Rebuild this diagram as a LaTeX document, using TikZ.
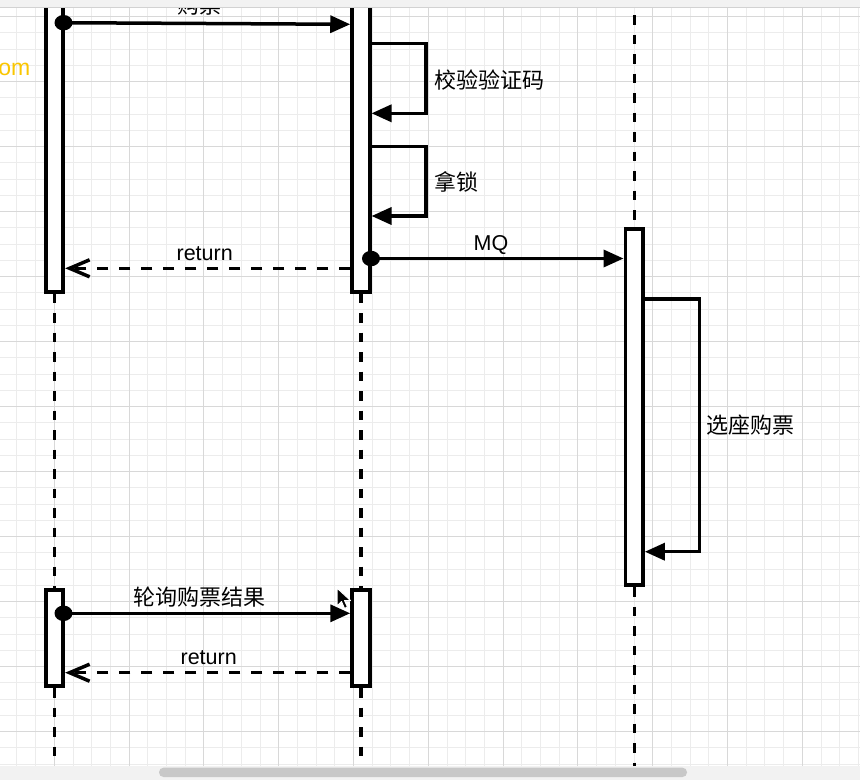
\documentclass[tikz,border=0pt]{standalone}
\usepackage{fontspec}
\setmainfont{Liberation Sans}
\newfontfamily\cjk{Noto Sans CJK SC}
\usetikzlibrary{arrows.meta,shapes.geometric}
\definecolor{gridminor}{RGB}{236,236,236}
\definecolor{gridmajor}{RGB}{216,216,216}
\definecolor{barcol}{RGB}{242,242,242}
\definecolor{scrollcol}{RGB}{200,200,200}
\definecolor{gold}{RGB}{250,198,0}
\begin{document}
\begin{tikzpicture}[x=1pt,y=-1pt,
  actbox/.style={draw=black, fill=white, line width=3.8pt, rectangle, inner sep=0pt, minimum width=17.5pt},
  lifeline/.style={line width=3.3pt, dash pattern=on 9.75pt off 9.75pt},
  msg/.style={line width=3.5pt, -{Triangle[length=20pt,width=17pt]}},
  ret/.style={line width=3.5pt, dash pattern=on 11pt off 11pt, -{Straight Barb[length=20pt,width=17pt]}},
  selfmsg/.style={line width=3.5pt, line join=miter, -{Triangle[length=20pt,width=17pt]}},
  dot/.style={ellipse, fill=black, inner sep=0pt, minimum width=18pt, minimum height=15.5pt},
  cjklabel/.style={font=\cjk\fontsize{22}{26}\selectfont, inner sep=0pt},
  latlabel/.style={font=\fontsize{21.5}{26}\selectfont, inner sep=0pt},
  gminor/.style={draw=gridminor, line width=1pt},
  gmajor/.style={draw=gridmajor, line width=1.1pt}
]
\useasboundingbox (0,0) rectangle (860,780);
\fill[white] (0,0) rectangle (860,780);
% grid
\foreach \k in {0,...,45} \draw[gminor] ({16.9+18.7*\k},7) -- ({16.9+18.7*\k},765.7);
\foreach \k in {0,...,47} \draw[gminor] (0,{0.45+16.25*\k}) -- (860,{0.45+16.25*\k});
\foreach \k in {0,...,10} \draw[gmajor] ({54.3+74.8*\k},7) -- ({54.3+74.8*\k},765.7);
\foreach \k in {0,...,11} \draw[gmajor] (0,{16.7+65*\k}) -- (860,{16.7+65*\k});

% yellow partial text
\node[font=\fontsize{23}{26}\selectfont, text=gold, inner sep=0pt, anchor=base east] (om) at (30.5,75) {om};

% activation boxes
\node[actbox, minimum height=291.7pt] (A1) at (54.5,145.85) {};
\node[actbox, minimum height=291.7pt] (B1) at (360.9,145.85) {};
\node[actbox, minimum height=356.6pt] (C1) at (634.2,407) {};
\node[actbox, minimum height=95.9pt] (A2) at (54.5,638.25) {};
\node[actbox, minimum height=95.9pt] (B2) at (360.9,638.25) {};

% lifelines
\coordinate (Abot) at (54.5,766);
\coordinate (Bbot) at (360.9,766);
\coordinate (Cbot) at (634.2,766);
\coordinate (Ctop) at (634.2,15);
\draw[lifeline] (A1.south) -- (A2.north);
\draw[lifeline] (A2.south) -- (Abot);
\draw[lifeline] (B1.south) -- (B2.north);
\draw[lifeline] (B2.south) -- (Bbot);
\draw[lifeline] (Ctop) -- (C1.north);
\draw[lifeline] (C1.south) -- (Cbot);

% 购票
\coordinate (y1) at (0,24.3);
\draw[msg] (63.5,22.7) -- (B1.west |- y1);
\node[dot] (d1) at (63.5,22.7) {};
\node[cjklabel, anchor=base] (l1) at (199,13.5) {购票};

% self message 校验验证码
\coordinate (s1a) at (0,43.7);
\coordinate (s1b) at (0,113.3);
\draw[selfmsg] (B1.east |- s1a) -- (426.2,43.7) -- (426.2,113.3) -- (B1.east |- s1b);
\node[cjklabel, anchor=base west] (l2) at (434,88.5) {校验验证码};

% self message 拿锁
\coordinate (s2a) at (0,146.3);
\coordinate (s2b) at (0,216);
\draw[selfmsg] (B1.east |- s2a) -- (426.2,146.3) -- (426.2,216) -- (B1.east |- s2b);
\node[cjklabel, anchor=base west] (l3) at (434,190) {拿锁};

% MQ
\coordinate (y2) at (0,258.5);
\draw[msg] (371,258.5) -- (C1.west |- y2);
\node[dot] (d2) at (371,258.5) {};
\node[latlabel, anchor=base] (l4) at (491,250) {MQ};

% return 1
\coordinate (r1) at (0,268.3);
\draw[ret] (B1.west |- r1) -- (A1.east |- r1);
\node[latlabel, anchor=base] (l5) at (204.7,260.7) {return};

% self message 选座购票
\coordinate (s3a) at (0,299);
\coordinate (s3b) at (0,551.7);
\draw[selfmsg] (C1.east |- s3a) -- (699.3,299) -- (699.3,551.7) -- (C1.east |- s3b);
\node[cjklabel, anchor=base west] (l6) at (706.5,433.5) {选座购票};

% 轮询购票结果
\coordinate (y3) at (0,613.3);
\draw[msg] (63.5,613.3) -- (B2.west |- y3);
\node[dot] (d3) at (63.5,613.3) {};
\node[cjklabel, anchor=base] (l7) at (199.4,605) {轮询购票结果};

% return 2
\coordinate (r2) at (0,672.7);
\draw[ret] (B2.west |- r2) -- (A2.east |- r2);
\node[latlabel, anchor=base] (l8) at (208.7,664) {return};

% mouse cursor
\filldraw[fill=black, draw=white, line width=1pt, line join=round] (337,588) -- (337,606) -- (341.5,601.5) -- (344.5,608.5) -- (347.5,607) -- (344.5,600.5) -- (350.5,600.5) -- cycle;

% top bar and bottom strip
\fill[barcol] (0,0) rectangle (860,7);
\draw[gray!35, line width=0.8pt] (0,7) -- (860,7);
\fill[barcol] (0,765.7) rectangle (860,780);
\fill[scrollcol, rounded corners=4.5pt] (159,767.7) rectangle (687,777);
\end{tikzpicture}
\end{document}
